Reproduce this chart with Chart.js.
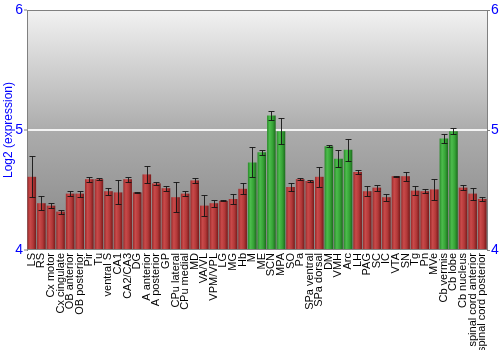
<!DOCTYPE html>
<html>
<head>
<meta charset="utf-8">
<script src="https://cdn.jsdelivr.net/npm/chart.js@4.4.0/dist/chart.umd.min.js"></script>
<style>
html, body { margin: 0; padding: 0; background: #fff; }
#wrap { width: 500px; height: 350px; }
</style>
</head>
<body>
<div id="wrap"><canvas id="chart"></canvas></div>
<script>
var regions = ['LS', 'RS', 'Cx motor', 'Cx cingulate', 'OB anterior', 'OB posterior', 'Pir', 'Tu',
    'ventral S', 'CA1', 'CA2/CA3', 'DG', 'A anterior', 'A posterior', 'GP', 'CPu lateral', 'CPu medial',
    'MD', 'VA/VL', 'VPM/VPL', 'LG', 'MG', 'Hb', 'M', 'ME', 'SCN', 'MPA', 'SO', 'Pa', 'SPa ventral',
    'SPa dorsal', 'DM', 'VMH', 'Arc', 'LH', 'PAG', 'SC', 'IC', 'VTA', 'SN', 'Tg', 'Pn', 'MVe',
    'Cb vermis', 'Cb lobe', 'Cb nucleus', 'spinal cord anterior', 'spinal cord posterior'];
var values = [4.61, 4.39, 4.37, 4.32, 4.47, 4.47, 4.59, 4.59,
    4.49, 4.48, 4.59, 4.48, 4.63, 4.555, 4.515, 4.44, 4.47,
    4.58, 4.37, 4.39, 4.41, 4.425, 4.51, 4.73, 4.815, 5.12, 4.99, 4.525, 4.59, 4.575,
    4.61, 4.865, 4.76, 4.835, 4.65, 4.49, 4.52, 4.44, 4.615, 4.615, 4.495, 4.49, 4.505,
    4.93, 4.99, 4.52, 4.47, 4.425];
var errors = [0.17, 0.06, 0.02, 0.017, 0.02, 0.025, 0.02, 0.01,
    0.03, 0.1, 0.02, 0.005, 0.07, 0.015, 0.02, 0.125, 0.02,
    0.02, 0.086, 0.028, 0.005, 0.045, 0.045, 0.125, 0.02, 0.038, 0.108, 0.03, 0.01, 0.012,
    0.085, 0.01, 0.07, 0.09, 0.02, 0.04, 0.025, 0.03, 0.005, 0.036, 0.04, 0.015, 0.085,
    0.036, 0.026, 0.02, 0.05, 0.02];
// g = highlighted (green) regions, r = the rest
var groups = ['r', 'r', 'r', 'r', 'r', 'r', 'r', 'r',
    'r', 'r', 'r', 'r', 'r', 'r', 'r', 'r', 'r',
    'r', 'r', 'r', 'r', 'r', 'r', 'g', 'g', 'g', 'g', 'r', 'r', 'r',
    'r', 'g', 'g', 'g', 'r', 'r', 'r', 'r', 'r', 'r', 'r', 'r', 'r',
    'g', 'g', 'r', 'r', 'r'];
var yMin = 4;
var yMax = 6;

var blue = '#0000ff';
var axisGray = '#808080';
var shades = {
    r: ['#9a2a2a', '#c94a4a', '#b23838', '#761a1a'],
    g: ['#2a8a2a', '#4cbc4c', '#36a336', '#1c6a1c']
};

function barFill(context) {
    var chart = context.chart;
    var scale = chart.scales.x;
    var kind = groups[context.dataIndex];
    if (!scale || !chart.chartArea) {
        return shades[kind][2];
    }
    var x = scale.getPixelForValue(context.dataIndex);
    var half = scale.width / regions.length * 0.9 / 2;
    var grad = chart.ctx.createLinearGradient(x - half, 0, x + half, 0);
    grad.addColorStop(0, shades[kind][0]);
    grad.addColorStop(0.3, shades[kind][1]);
    grad.addColorStop(0.65, shades[kind][2]);
    grad.addColorStop(1, shades[kind][3]);
    return grad;
}

var plotBackground = {
    id: 'plotBackground',
    beforeDraw: function (chart) {
        var a = chart.chartArea;
        var ctx = chart.ctx;
        var grad = ctx.createLinearGradient(0, a.top, 0, a.bottom);
        grad.addColorStop(0, '#f2f2f2');
        grad.addColorStop(0.5, '#acacac');
        grad.addColorStop(1, '#858585');
        ctx.save();
        ctx.fillStyle = grad;
        ctx.fillRect(a.left, a.top, a.right - a.left, a.bottom - a.top);
        ctx.strokeStyle = axisGray;
        ctx.lineWidth = 1;
        ctx.beginPath();
        ctx.moveTo(a.left, a.top + 0.5);
        ctx.lineTo(a.right, a.top + 0.5);
        ctx.stroke();
        ctx.restore();
    }
};

var errorBars = {
    id: 'errorBars',
    afterDatasetsDraw: function (chart) {
        var ctx = chart.ctx;
        var y = chart.scales.y;
        var meta = chart.getDatasetMeta(0);
        ctx.save();
        ctx.strokeStyle = 'rgba(20, 20, 20, 0.9)';
        ctx.lineWidth = 1;
        meta.data.forEach(function (bar, i) {
            var top = Math.round(y.getPixelForValue(values[i] + errors[i])) + 0.5;
            var bottom = Math.round(y.getPixelForValue(values[i] - errors[i])) + 0.5;
            var x = Math.round(bar.x) + 0.5;
            ctx.beginPath();
            ctx.moveTo(x, top);
            ctx.lineTo(x, bottom);
            ctx.moveTo(x - 3, top);
            ctx.lineTo(x + 3, top);
            ctx.moveTo(x - 3, bottom);
            ctx.lineTo(x + 3, bottom);
            ctx.stroke();
        });
        ctx.restore();
    }
};

Chart.defaults.font.family = '"Liberation Sans", Arial, sans-serif';

new Chart(document.getElementById('chart'), {
    type: 'bar',
    data: {
        labels: regions,
        datasets: [{
            data: values,
            backgroundColor: barFill,
            borderWidth: 0,
            barPercentage: 0.9,
            categoryPercentage: 1,
            base: yMin
        }]
    },
    options: {
        responsive: true,
        maintainAspectRatio: false,
        animation: false,
        layout: {padding: {top: 10, left: 0, right: 0, bottom: 0}},
        plugins: {
            legend: {display: false},
            tooltip: {enabled: false}
        },
        scales: {
            x: {
                grid: {display: false, drawTicks: false},
                border: {display: false},
                ticks: {
                    autoSkip: false,
                    maxRotation: 90,
                    minRotation: 90,
                    padding: 3,
                    color: '#000',
                    font: {size: 11}
                },
                afterFit: function (scale) { scale.height = 100; }
            },
            y: {
                min: yMin,
                max: yMax,
                position: 'left',
                border: {display: true, color: axisGray},
                grid: {
                    color: function (c) { return c.tick && c.tick.value === 5 ? '#f4f4f4' : 'rgba(0,0,0,0)'; },
                    lineWidth: 2,
                    tickColor: axisGray,
                    tickLength: 3,
                    tickWidth: 1
                },
                ticks: {stepSize: 1, color: blue, padding: 1, font: {size: 14}},
                title: {
                    display: true,
                    text: 'Log2 (expression)',
                    color: blue,
                    font: {size: 12},
                    padding: {top: 1, bottom: 0}
                },
                afterFit: function (scale) { scale.width = 27; }
            },
            y2: {
                min: yMin,
                max: yMax,
                position: 'right',
                border: {display: true, color: axisGray},
                grid: {
                    drawOnChartArea: false,
                    tickColor: axisGray,
                    tickLength: 3,
                    tickWidth: 1
                },
                ticks: {stepSize: 1, color: blue, padding: 1, font: {size: 14}},
                afterFit: function (scale) { scale.width = 13; }
            }
        }
    },
    plugins: [plotBackground, errorBars]
});
</script>
</body>
</html>
